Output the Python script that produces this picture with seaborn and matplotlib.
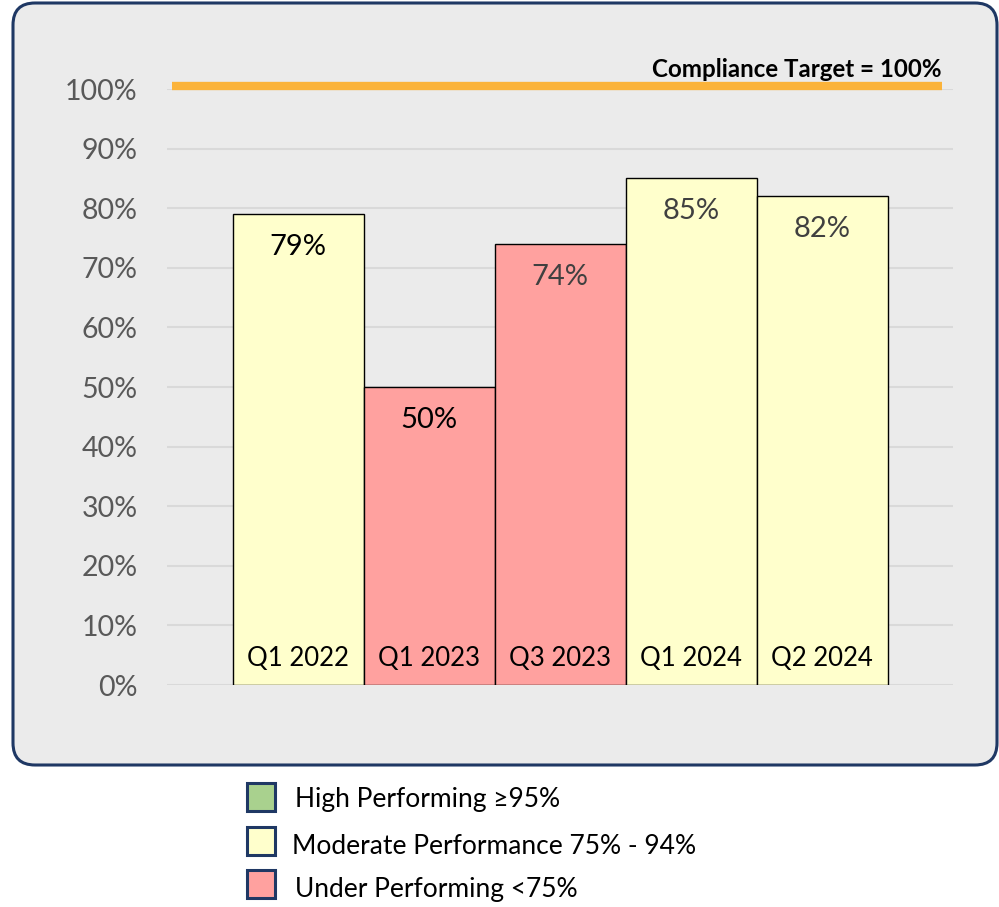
import matplotlib
matplotlib.use('Agg')
import matplotlib.pyplot as plt
import matplotlib.patches as mpatches
import seaborn as sns

# data
quarters = ['Q1 2022', 'Q1 2023', 'Q3 2023', 'Q1 2024', 'Q2 2024']
compliance = [79, 50, 74, 85, 82]
target = 100
yticks = list(range(0, 101, 10))

YELLOW = '#FFFFCC'
PINK = '#FFA19F'
GREEN = '#A9D18E'
NAVY = '#1F3864'
bar_colors = [YELLOW if v >= 75 else PINK for v in compliance]
value_colors = ['#000000', '#000000', '#404040', '#404040', '#404040']

legend_labels = ['High Performing \u226595%', 'Moderate Performance 75% - 94%', 'Under Performing <75%']
legend_colors = [GREEN, YELLOW, PINK]

sns.set_style('white')
plt.rcParams['font.family'] = ['Lato', 'DejaVu Sans']

W, H = 999, 907
fig = plt.figure(figsize=(W / 100, H / 100), dpi=100)

# rounded grey panel (behind the axes)
panel = mpatches.FancyBboxPatch((0.13, 1.42), 9.84, 7.62,
                                boxstyle='round,pad=0,rounding_size=0.22',
                                transform=fig.dpi_scale_trans, zorder=-10,
                                facecolor='#EBEBEB', edgecolor=NAVY, linewidth=2.2)
fig.patches.append(panel)

ax = fig.add_axes([167 / W, (H - 685) / H, (953 - 167) / W, (685 - 89) / H])
ax.set_zorder(5)
ax.set_facecolor('none')

sns.barplot(x=quarters, y=compliance, hue=quarters, palette=bar_colors, width=1.0,
            saturation=1, edgecolor='black', linewidth=1, legend=False, ax=ax, zorder=3)

ax.set_xlim(-1, 5)
ax.set_ylim(0, 100)
ax.set_yticks(yticks)
ax.set_yticklabels([f'{t}%' for t in yticks], color='#595959', fontsize=20.5)
ax.tick_params(axis='y', length=0, pad=21)
ax.set_xticks([])
ax.set_xlabel('')
ax.set_ylabel('')
ax.grid(axis='y', color='#D9D9D9', linewidth=1.5, zorder=0)
ax.set_axisbelow(True)
for s in ax.spines.values():
    s.set_visible(False)

# target line
ax.axhline(target + 0.5, xmin=0.006, xmax=0.986, color='#FBB33A', linewidth=6, zorder=4,
           clip_on=False, solid_capstyle='butt')
ax.text(0.986, target + 1.3, f'Compliance Target = {target}%', transform=ax.get_yaxis_transform(),
        ha='right', va='bottom', fontsize=17.4, fontweight='bold', color='black')

for i, (v, c) in enumerate(zip(compliance, value_colors)):
    ax.text(i, v - 5.5, f'{v}%', ha='center', va='center', fontsize=21, color=c, zorder=5)
    ax.text(i, 4.4, quarters[i], ha='center', va='center', fontsize=18.5, color='black', zorder=5)

# legend below panel
square_y = [797, 841, 884]
text_y = [800, 846, 889]
text_x = [295, 292, 295]
for lab, col, sy, ty, tx in zip(legend_labels, legend_colors, square_y, text_y, text_x):
    sq = mpatches.Rectangle((2.47, (H - sy - 14) / 100), 0.28, 0.28, transform=fig.dpi_scale_trans,
                            facecolor=col, edgecolor=NAVY, linewidth=2.2)
    fig.patches.append(sq)
    fig.text(tx / W, (H - ty) / H, lab, ha='left', va='center', fontsize=19, color='black')

fig.savefig('out.png', dpi=100)
